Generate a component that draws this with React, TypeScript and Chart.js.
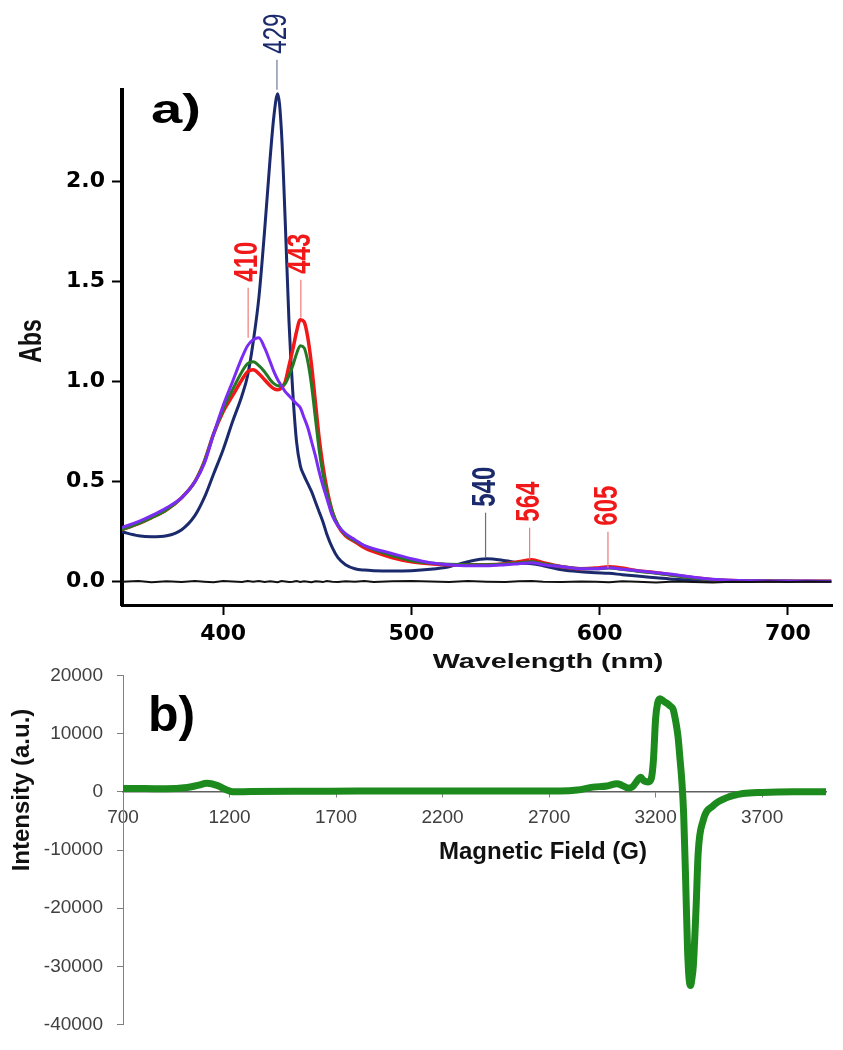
import React, { useEffect, useRef } from "react";
import { Chart, registerables } from "chart.js";

Chart.register(...registerables);

// ---------- (a) UV-vis data ----------
const wavelengths = [
  346, 355, 362, 370, 378, 385, 390, 395, 400, 405,
  410, 413, 416, 419, 422, 425, 427, 429, 431, 433,
  435, 437, 439, 441, 443, 445, 447, 449, 451, 453,
  455, 458, 461, 465, 470, 475, 480, 490, 500, 510,
  520, 530, 540, 550, 557, 564, 570, 580, 590, 598,
  605, 612, 620, 630, 640, 650, 660, 670, 680, 690,
  700, 710, 723,
];

const absNavy = [
  0.25, 0.23, 0.225, 0.23, 0.26, 0.33, 0.42, 0.54, 0.66, 0.8,
  0.93, 1.03, 1.2, 1.42, 1.75, 2.12, 2.33, 2.44, 2.25, 1.8,
  1.3, 0.95, 0.7, 0.58, 0.53, 0.49, 0.45, 0.4, 0.35, 0.3,
  0.24, 0.17, 0.12, 0.085, 0.065, 0.058, 0.055, 0.053, 0.055, 0.062,
  0.075, 0.1, 0.115, 0.105, 0.095, 0.09, 0.08, 0.06, 0.05, 0.045,
  0.042, 0.035, 0.028, 0.02, 0.012, 0.008, 0.005, 0.003, 0.002, 0.002,
  0.001, 0.001, 0.001,
];

const absPurple = [
  0.27, 0.3, 0.33, 0.37, 0.42, 0.5, 0.59, 0.74, 0.88, 1.0,
  1.12, 1.18, 1.21, 1.22, 1.17, 1.1, 1.05, 1.01, 0.98, 0.95,
  0.93, 0.91, 0.89, 0.87, 0.82, 0.77, 0.7, 0.63, 0.55, 0.48,
  0.42, 0.33, 0.28, 0.24, 0.21, 0.18, 0.165, 0.14, 0.115, 0.095,
  0.085, 0.08, 0.08, 0.085, 0.09, 0.095, 0.085, 0.075, 0.065, 0.065,
  0.07, 0.062, 0.055, 0.045, 0.035, 0.022, 0.012, 0.007, 0.005, 0.004,
  0.003, 0.003, 0.002,
];

const absGreen = [
  0.26, 0.29, 0.32, 0.36, 0.42, 0.5, 0.6, 0.74, 0.86, 0.96,
  1.05, 1.09, 1.1, 1.08, 1.05, 1.01, 0.99, 0.98, 0.98, 0.99,
  1.03, 1.08, 1.14, 1.18, 1.17, 1.1, 0.98, 0.82, 0.66, 0.54,
  0.45, 0.35, 0.285, 0.235, 0.205, 0.18, 0.16, 0.13, 0.105, 0.093,
  0.087, 0.085, 0.085, 0.088, 0.095, 0.1, 0.09, 0.075, 0.065, 0.065,
  0.068, 0.062, 0.052, 0.042, 0.03, 0.018, 0.01, 0.006, 0.004, 0.003,
  0.003, 0.002, 0.002,
];

const absRed = [
  0.26, 0.29, 0.32, 0.36, 0.42, 0.5, 0.6, 0.74, 0.85, 0.93,
  1.01, 1.05, 1.06, 1.04, 1.01, 0.98, 0.965, 0.96, 0.97, 1.0,
  1.08, 1.16, 1.25, 1.31, 1.3, 1.22, 1.08, 0.9, 0.72, 0.58,
  0.47, 0.35, 0.28, 0.23, 0.2, 0.17, 0.15, 0.12, 0.1, 0.09,
  0.085, 0.085, 0.085, 0.09, 0.1, 0.11, 0.095, 0.075, 0.065, 0.068,
  0.075, 0.068, 0.055, 0.045, 0.032, 0.02, 0.01, 0.006, 0.004, 0.003,
  0.003, 0.002, 0.002,
];

const absBlank = [
  0.0, 0.004, -0.003, 0.002, -0.002, 0.003, 0.0, -0.003, 0.004, 0.001,
  -0.002, 0.003, 0.0, 0.004, -0.002, 0.002, 0.0, -0.003, 0.003, 0.001,
  -0.002, 0.0, 0.003, -0.001, 0.002, 0.0, -0.003, 0.002, 0.001, -0.002,
  0.003, 0.0, -0.002, 0.002, 0.0, 0.003, -0.001, 0.002, 0.004, 0.001,
  -0.002, 0.003, 0.0, -0.002, 0.002, 0.003, 0.0, -0.002, 0.001, 0.0,
  -0.003, 0.002, 0.0, -0.004, 0.001, -0.002, -0.004, 0.0, -0.002, 0.001,
  -0.001, 0.001, 0.0,
];

const uvXTicks = [400, 500, 600, 700];
const uvYTicks = [0, 0.5, 1.0, 1.5, 2.0];

// peak annotations
const peakNm = [428.6, 413.3, 441.3, 539.4, 562.8, 604.4];
const peakAbs = [2.46, 1.22, 1.32, 0.12, 0.11, 0.07];
const peakText = ["429", "410", "443", "540", "564", "605"];

// ---------- (b) EPR data ----------
const fieldG = [
  700, 800, 900, 1000, 1050, 1094, 1141, 1188, 1216, 1300,
  1500, 1800, 2200, 2600, 2752, 2832, 2906, 2972, 3019, 3043,
  3071, 3090, 3118, 3130, 3145, 3165, 3180, 3190, 3200, 3210,
  3221, 3240, 3254, 3270, 3282, 3295, 3305, 3315, 3324, 3332,
  3341, 3350, 3357, 3364, 3371, 3377, 3390, 3400, 3423, 3470,
  3535, 3610, 3700, 3850, 4000,
];
const eprIntensity = [
  550, 550, 520, 750, 1100, 1450, 1100, 300, 0, 50,
  100, 120, 150, 150, 150, 300, 800, 1000, 1400, 1100,
  650, 800, 2100, 2500, 1900, 1700, 2300, 5500, 12500, 15300,
  16000, 15500, 15200, 14700, 14200, 12000, 9600, 5500, 1500, -4000,
  -15000, -27000, -32000, -33300, -32000, -30000, -20000, -10500, -5000, -2400,
  -1000, -300, -100, 0, 0,
];
const eprXTicks = [700, 1200, 1700, 2200, 2700, 3200, 3700];
const eprYTicks = [-40000, -30000, -20000, -10000, 0, 10000, 20000];

// ---------- styles ----------
const NAVY = "#1b2a6c";
const PURPLE = "#7a2cf2";
const GREEN = "#237a23";
const RED = "#f01818";
const EPR_GREEN = "#1d8a1d";
const STRETCH = 1.37;
const peakColor = [NAVY, RED, RED, NAVY, RED, RED];
const peakLineColor = ["#6f7898", "#f07a7a", "#f07a7a", "#707070", "#f07a7a", "#f07a7a"];
const peakBold = [false, true, true, true, true, true];
const peakLeader = [30, 50, 38, 45, 32, 36];

function drawText(
  ctx: CanvasRenderingContext2D,
  text: string,
  x: number,
  y: number,
  font: string,
  color: string,
  opts: { rotate?: boolean; sx?: number; align?: CanvasTextAlign; baseline?: CanvasTextBaseline } = {}
) {
  ctx.save();
  ctx.translate(x, y);
  ctx.scale(opts.sx ?? 1, 1);
  if (opts.rotate) ctx.rotate(-Math.PI / 2);
  ctx.font = font;
  ctx.fillStyle = color;
  ctx.textAlign = opts.align ?? "center";
  ctx.textBaseline = opts.baseline ?? "middle";
  ctx.fillText(text, 0, 0);
  ctx.restore();
}

const uvPlugin = {
  id: "uvDecor",
  afterDraw(chart: any) {
    const { ctx, scales } = chart;
    const xs = scales.x;
    const ys = scales.y;
    peakNm.forEach((nm, i) => {
      const px = xs.getPixelForValue(nm);
      const py = ys.getPixelForValue(peakAbs[i]);
      const top = py - peakLeader[i];
      ctx.save();
      ctx.strokeStyle = peakLineColor[i];
      ctx.lineWidth = 1.2;
      ctx.beginPath();
      ctx.moveTo(px, py);
      ctx.lineTo(px, top);
      ctx.stroke();
      ctx.restore();
      const font = (peakBold[i] ? "bold " : "") + "24px 'Liberation Sans', Arial, sans-serif";
      ctx.save();
      ctx.font = font;
      const len = ctx.measureText(peakText[i]).width;
      ctx.restore();
      drawText(ctx, peakText[i], px, top - 6 - len / 2, font, peakColor[i], { rotate: true, sx: STRETCH });
    });
    drawText(ctx, "a)", 151, 123, "bold 41px 'Liberation Sans', Arial, sans-serif", "#000", {
      sx: STRETCH,
      align: "left",
      baseline: "alphabetic",
    });
    drawText(ctx, "Abs", 32, 341, "bold 23px 'Liberation Sans', Arial, sans-serif", "#111", {
      rotate: true,
      sx: STRETCH,
    });
    drawText(ctx, "Wavelength (nm)", 548, 662, "bold 21px 'Liberation Sans', Arial, sans-serif", "#111", {
      sx: STRETCH,
    });
  },
};

const eprPlugin = {
  id: "eprDecor",
  afterDraw(chart: any) {
    const { ctx } = chart;
    drawText(ctx, "b)", 148, 81, "bold 50px 'Liberation Sans', Arial, sans-serif", "#000", {
      align: "left",
      baseline: "alphabetic",
    });
    drawText(ctx, "Intensity (a.u.)", 22, 140, "bold 24px 'Liberation Sans', Arial, sans-serif", "#111", {
      rotate: true,
    });
    drawText(ctx, "Magnetic Field (G)", 543, 202, "bold 24px 'Liberation Sans', Arial, sans-serif", "#111");
  },
};

function toXY(xs: number[], ys: number[]) {
  return xs.map((x, i) => ({ x, y: ys[i] }));
}

export default function App() {
  const topRef = useRef<HTMLCanvasElement>(null);
  const botRef = useRef<HTMLCanvasElement>(null);

  useEffect(() => {
    const lineDs = (label: string, data: number[], color: string, width: number) => ({
      label,
      data: toXY(wavelengths, data),
      borderColor: color,
      backgroundColor: color,
      borderWidth: width,
      pointRadius: 0,
      tension: 0.4,
      cubicInterpolationMode: "monotone" as const,
      fill: false,
    });

    const c1 = new Chart(topRef.current!, {
      type: "line",
      data: {
        datasets: [
          { ...lineDs("blank", absBlank, "#111111", 2), tension: 0, cubicInterpolationMode: "default" as const },
          lineDs("purple", absPurple, PURPLE, 3),
          lineDs("green", absGreen, GREEN, 3),
          lineDs("red", absRed, RED, 3.5),
          lineDs("navy", absNavy, NAVY, 3),
        ],
      },
      options: {
        responsive: false,
        animation: false,
        events: [],
        layout: { padding: { top: 90, right: 11, left: 0, bottom: 0 } },
        plugins: { legend: { display: false }, tooltip: { enabled: false }, title: { display: false } },
        scales: {
          x: {
            type: "linear",
            min: 346.3,
            max: 723.4,
            afterBuildTicks: (s: any) => {
              s.ticks = uvXTicks.map((v) => ({ value: v }));
            },
            afterFit: (s: any) => {
              s.height = 85;
            },
            grid: { drawOnChartArea: false, tickLength: 10, tickWidth: 2, tickColor: "#000" },
            border: { display: true, color: "#000", width: 3 },
            ticks: {
              autoSkip: false,
              maxRotation: 0,
              padding: 6,
              color: "#000",
              font: { family: "'DejaVu Sans', sans-serif", size: 22, weight: "bold" },
              callback: (v: any) => String(v),
            },
          },
          y: {
            type: "linear",
            min: -0.1165,
            max: 2.4585,
            afterBuildTicks: (s: any) => {
              s.ticks = uvYTicks.map((v) => ({ value: v }));
            },
            afterFit: (s: any) => {
              s.width = 122;
            },
            grid: { drawOnChartArea: false, tickLength: 10, tickWidth: 2, tickColor: "#000" },
            border: { display: true, color: "#000", width: 4 },
            ticks: {
              padding: 7,
              color: "#000",
              font: { family: "'DejaVu Sans', sans-serif", size: 22, weight: "bold" },
              callback: (v: any) => Number(v).toFixed(1),
            },
          },
        },
      },
      plugins: [uvPlugin],
    });

    const c2 = new Chart(botRef.current!, {
      type: "line",
      data: {
        datasets: [
          {
            label: "EPR",
            data: toXY(fieldG, eprIntensity),
            borderColor: EPR_GREEN,
            backgroundColor: EPR_GREEN,
            borderWidth: 7,
            borderCapStyle: "round",
            borderJoinStyle: "round",
            pointRadius: 0,
            tension: 0.4,
            cubicInterpolationMode: "monotone",
            fill: false,
          },
        ],
      },
      options: {
        responsive: false,
        animation: false,
        events: [],
        layout: { padding: { top: 17, right: 17, left: 0, bottom: 13 } },
        plugins: { legend: { display: false }, tooltip: { enabled: false }, title: { display: false } },
        scales: {
          x: {
            type: "linear",
            position: { y: 0 } as any,
            min: 700,
            max: 4000,
            afterBuildTicks: (s: any) => {
              s.ticks = eprXTicks.map((v) => ({ value: v }));
            },
            grid: { drawOnChartArea: false, tickLength: 5, tickWidth: 1, tickColor: "#808080" },
            border: { display: true, color: "#606060", width: 1.5 },
            ticks: {
              autoSkip: false,
              maxRotation: 0,
              padding: 10,
              color: "#404040",
              font: { family: "'Liberation Sans', Arial, sans-serif", size: 19 },
              callback: (v: any) => String(v),
            },
          },
          y: {
            type: "linear",
            min: -40000,
            max: 20000,
            afterBuildTicks: (s: any) => {
              s.ticks = eprYTicks.map((v) => ({ value: v }));
            },
            afterFit: (s: any) => {
              s.width = 123;
            },
            grid: { drawOnChartArea: false, tickLength: 6, tickWidth: 1, tickColor: "#808080" },
            border: { display: true, color: "#808080", width: 1 },
            ticks: {
              padding: 14,
              color: "#404040",
              font: { family: "'Liberation Sans', Arial, sans-serif", size: 19 },
              callback: (v: any) => String(v),
            },
          },
        },
      },
      plugins: [eprPlugin],
    });

    return () => {
      c1.destroy();
      c2.destroy();
    };
  }, []);

  return (
    <div style={{ position: "absolute", left: 0, top: 0, width: 843, height: 1050, background: "#fff" }}>
      <canvas
        ref={topRef}
        width={843}
        height={690}
        style={{ position: "absolute", left: 0, top: 0, width: 843, height: 690 }}
      />
      <canvas
        ref={botRef}
        width={843}
        height={400}
        style={{ position: "absolute", left: 0, top: 650, width: 843, height: 400 }}
      />
    </div>
  );
}
